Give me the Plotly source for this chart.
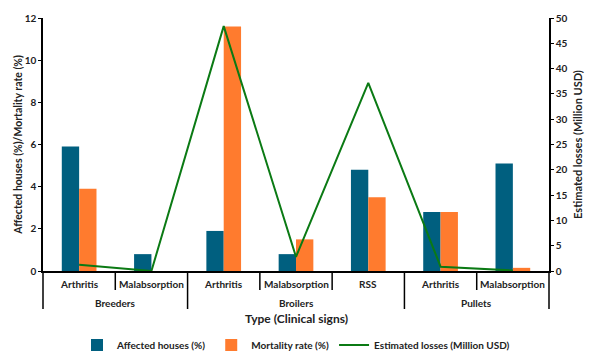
import plotly.graph_objects as go

groups = ["Breeders", "Breeders", "Broilers", "Broilers", "Broilers", "Pullets", "Pullets"]
signs = ["Arthritis", "Malabsorption", "Arthritis", "Malabsorption", "RSS", "Arthritis", "Malabsorption"]
affected_houses = [5.9, 0.8, 1.9, 0.8, 4.8, 2.8, 5.1]
mortality_rate = [3.9, None, 11.6, 1.5, 3.5, 2.8, 0.15]
estimated_losses = [1.25, 0.0, 48.4, 2.8, 37.2, 0.85, 0.1]

x = [groups, signs]
n = len(signs)
font = "Lato, 'Open Sans', sans-serif"
tc = "#222222"

# page body has an 8px default margin, so the figure is sized to fit the 600x359 window
W, H = 592, 351
ML, MR, MT, MB = 35, 51, 10, 88
PH = H - MT - MB

fig = go.Figure()
fig.add_trace(go.Bar(x=x, y=affected_houses, name="Affected houses (%)",
                     marker=dict(color="#005F7F", line=dict(width=0))))
fig.add_trace(go.Bar(x=x, y=mortality_rate, name="Mortality rate (%)",
                     marker=dict(color="#FF7B2E", line=dict(width=0))))
fig.add_trace(go.Scatter(x=x, y=estimated_losses, name="Estimated losses (Million USD)",
                         mode="lines", line=dict(color="#0B7A14", width=2), yaxis="y2"))

# category-axis labelling: derived from the category lists
group_starts = [i for i in range(n) if i == 0 or groups[i] != groups[i - 1]]
group_bounds = group_starts + [n]
inner_bounds = [i for i in range(1, n) if i not in group_starts]

shapes = []
for b in inner_bounds:
    shapes.append(dict(type="line", xref="paper", yref="paper", x0=b / n, x1=b / n,
                       y0=0, y1=-19 / PH, line=dict(color="black", width=1.5)))
for b in group_bounds:
    shapes.append(dict(type="line", xref="paper", yref="paper", x0=b / n, x1=b / n,
                       y0=0, y1=-38 / PH, line=dict(color="black", width=1.5)))

annotations = []
for i, s in enumerate(signs):
    annotations.append(dict(text=s, xref="paper", yref="paper", x=(i + 0.5) / n,
                            y=-13 / PH, xanchor="center", yanchor="middle", showarrow=False,
                            font=dict(size=10, family=font, weight="bold", color=tc)))
for a, b in zip(group_bounds[:-1], group_bounds[1:]):
    annotations.append(dict(text=groups[a], xref="paper", yref="paper", x=(a + b) / 2 / n,
                            y=-32 / PH, xanchor="center", yanchor="middle", showarrow=False,
                            font=dict(size=10, family=font, weight="bold", color=tc)))
annotations.append(dict(text="Type (Clinical signs)", xref="paper", yref="paper", x=0.5,
                        y=-47 / PH, xanchor="center", yanchor="middle", showarrow=False,
                        font=dict(size=12, family=font, weight="bold", color=tc)))

fig.update_layout(
    width=W, height=H,
    margin=dict(l=ML, r=MR, t=MT, b=MB),
    paper_bgcolor="white", plot_bgcolor="white",
    barmode="group", bargap=0.52, bargroupgap=0,
    font=dict(family=font, size=10, color=tc),
    showlegend=True,
    legend=dict(orientation="h", x=0.5, xanchor="center", yref="container",
                y=1 - (345 - 8) / H, yanchor="middle",
                font=dict(size=10, family=font, weight="bold"), traceorder="normal"),
    shapes=shapes,
    annotations=annotations,
    xaxis=dict(type="multicategory", showline=True, linecolor="black", linewidth=1.5,
               automargin=False, ticks="", showticklabels=False, showdividers=False,
               showgrid=False),
    yaxis=dict(range=[0, 12], dtick=2, showline=True, linecolor="black", linewidth=1.5,
               automargin=False,
               ticks="outside", ticklen=3, tickcolor="black", showgrid=False, zeroline=False,
               tickfont=dict(size=10, family=font, weight="bold", color=tc),
               title=dict(text="Affected houses (%)/Mortality rate (%)", standoff=0,
                          font=dict(size=10.5, family=font, weight="bold", color=tc))),
    yaxis2=dict(range=[0, 50], dtick=5, overlaying="y", side="right", showline=True,
                automargin=False,
                linecolor="black", linewidth=1.5, ticks="outside", ticklen=3, tickcolor="black",
                showgrid=False, zeroline=False,
                tickfont=dict(size=10, family=font, weight="bold", color=tc),
                title=dict(text="Estimated losses (Million USD)", standoff=8,
                           font=dict(size=11, family=font, weight="bold", color=tc))),
)

fig.write_html("out.html")
